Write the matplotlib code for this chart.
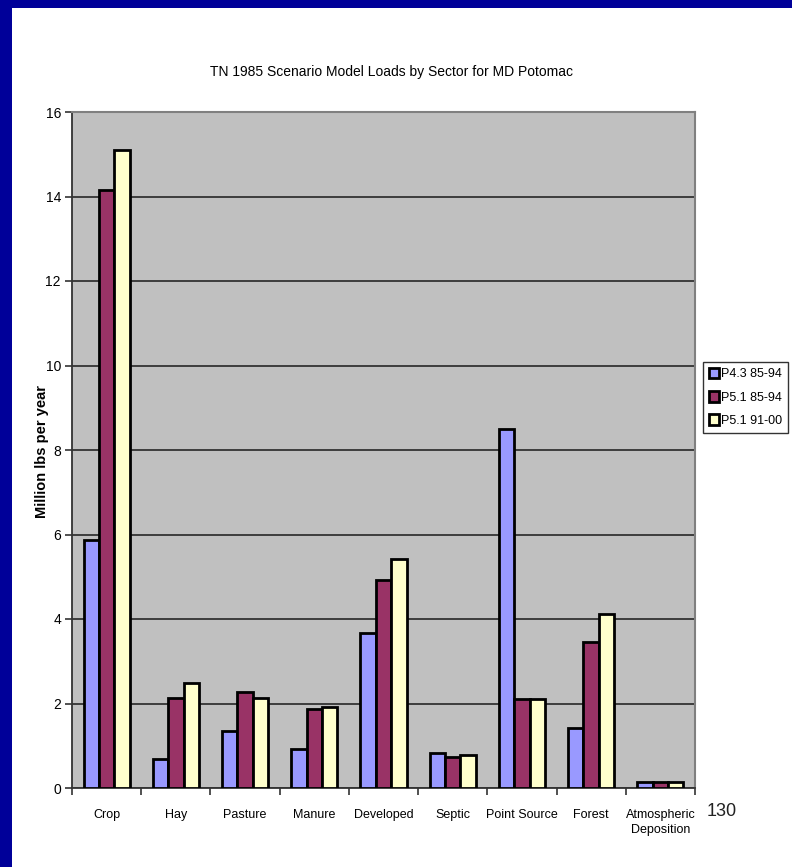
import matplotlib
matplotlib.use("Agg")
import matplotlib.pyplot as plt
from matplotlib.patches import Rectangle
from matplotlib.ticker import FixedLocator, NullFormatter
import numpy as np

categories = ["Crop", "Hay", "Pasture", "Manure", "Developed", "Septic",
              "Point Source", "Forest", "Atmospheric\nDeposition"]
series_names = ["P4.3 85-94", "P5.1 85-94", "P5.1 91-00"]
p43_85_94 = [5.88, 0.68, 1.35, 0.92, 3.66, 0.82, 8.50, 1.42, 0.15]
p51_85_94 = [14.15, 2.12, 2.27, 1.87, 4.92, 0.73, 2.10, 3.46, 0.15]
p51_91_00 = [15.10, 2.48, 2.13, 1.92, 5.42, 0.78, 2.10, 4.12, 0.15]
y_ticks = [0, 2, 4, 6, 8, 10, 12, 14, 16]

colors = ["#9999FF", "#993366", "#FFFFCC"]
narrow = ["Liberation Sans Narrow", "Liberation Sans", "DejaVu Sans"]

fig = plt.figure(figsize=(7.92, 8.67), dpi=100)
fig.patch.set_facecolor("white")

# slide frame: navy strips along the left and top edges
fig.patches.append(Rectangle((0, 0), 12 / 792, 1, transform=fig.transFigure,
                             facecolor="#000099", edgecolor="none", zorder=0))
fig.patches.append(Rectangle((0, 1 - 8 / 867), 1, 8 / 867, transform=fig.transFigure,
                             facecolor="#000099", edgecolor="none", zorder=0))

ax = fig.add_axes([72 / 792, 79 / 867, 623 / 792, 676 / 867])
ax.set_facecolor("#C0C0C0")

n = len(categories)
x = np.arange(n)
bw = 1 / 4.5
series = [p43_85_94, p51_85_94, p51_91_00]
for i, (vals, name, c) in enumerate(zip(series, series_names, colors)):
    ax.bar(x + (i - 1) * bw, vals, width=bw, color=c, edgecolor="black",
           linewidth=2.0, label=name, zorder=3)

ax.set_xlim(-0.5, n - 0.5)
ax.set_ylim(0, 16)
ax.set_yticks(y_ticks)
ax.yaxis.grid(True, color="#1a1a1a", linewidth=1.1, zorder=1)
ax.set_axisbelow(True)

# category boundaries carry the tick marks, labels sit at category centres
ax.xaxis.set_major_locator(FixedLocator(np.arange(n + 1) - 0.5))
ax.xaxis.set_major_formatter(NullFormatter())
ax.xaxis.set_minor_locator(FixedLocator(x))
ax.set_xticklabels(categories, minor=True, family=narrow, fontsize=9,
                   linespacing=1.3, va="top")
ax.tick_params(axis="x", which="minor", length=0, pad=15)
ax.tick_params(axis="x", which="major", length=5, width=1.2, color="#333333")
ax.tick_params(axis="y", length=5, width=1.2, color="#333333", labelsize=10, pad=3)
for lab in ax.get_yticklabels():
    lab.set_family(narrow)

for side in ("top", "right"):
    ax.spines[side].set_color("#808080")
    ax.spines[side].set_linewidth(1.5)
for side in ("left", "bottom"):
    ax.spines[side].set_color("#333333")
    ax.spines[side].set_linewidth(1.3)

fig.text(42 / 792, 1 - 452 / 867, "Million lbs per year", rotation=90,
         ha="center", va="center", fontsize=10.5, fontweight="bold",
         family=["Liberation Sans", "DejaVu Sans"])

fig.text(392 / 792, 1 - 72 / 867, "TN 1985 Scenario Model Loads by Sector for MD Potomac",
         ha="center", va="center", fontsize=10, family=narrow)

leg = fig.legend(loc="upper left", bbox_to_anchor=(703 / 792, 1 - 362 / 867),
                 prop={"family": narrow, "size": 9}, frameon=True, fancybox=False,
                 edgecolor="black", handlelength=0.85, handleheight=0.95,
                 handletextpad=0.15, borderpad=0.45, labelspacing=0.85,
                 borderaxespad=0)
leg.get_frame().set_linewidth(1.0)
for h in leg.legend_handles:
    h.set_linewidth(2.0)

fig.text(722 / 792, 1 - 812 / 867, "130", ha="center", va="center",
         fontsize=13, family=narrow, color="#222222")

fig.savefig("out.png", dpi=100, facecolor="white")
